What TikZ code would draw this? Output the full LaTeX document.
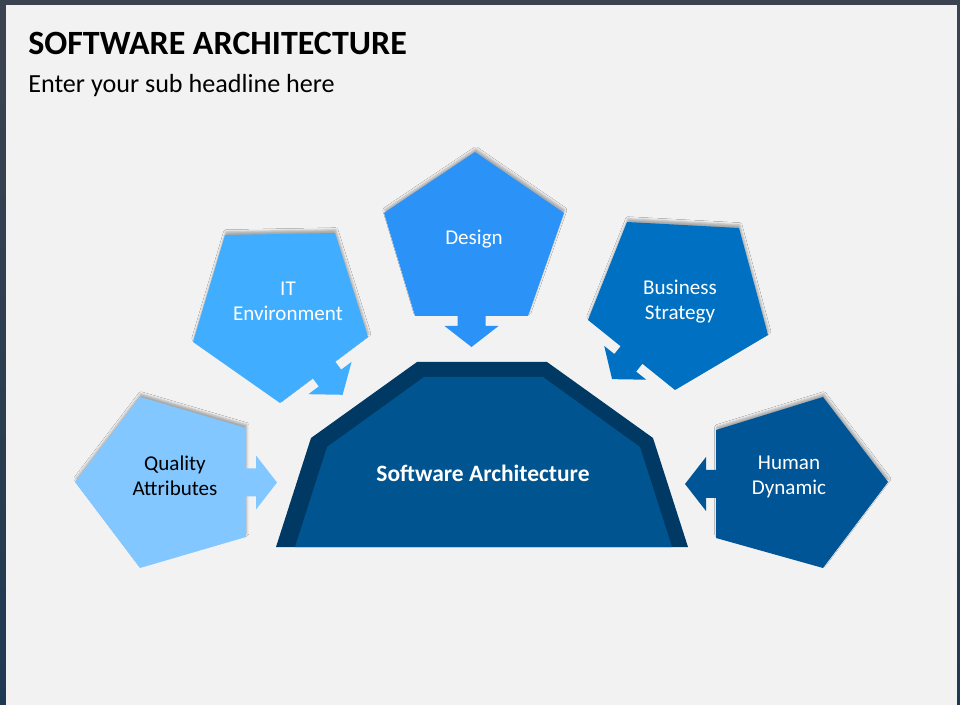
\documentclass[tikz,border=0pt]{standalone}
\usepackage{fontspec}
\setmainfont{Carlito}
\usetikzlibrary{calc,shadows.blur}
\definecolor{frameTop}{RGB}{60,67,80}
\definecolor{frameBot}{RGB}{30,58,82}
\definecolor{slidebg}{RGB}{242,242,242}
\definecolor{cQual}{RGB}{130,199,255}
\definecolor{cIT}{RGB}{64,173,255}
\definecolor{cDes}{RGB}{43,146,247}
\definecolor{cBus}{RGB}{0,113,194}
\definecolor{cHum}{RGB}{0,85,150}
\definecolor{cOut}{RGB}{0,57,99}
\definecolor{cIn}{RGB}{0,84,143}
\tikzset{
  pent/.style={blur shadow={shadow xshift=0.6pt, shadow yshift=2.4pt, shadow opacity=30, shadow blur radius=1.6pt, shadow blur extra rounding=0pt}},
  lbl/.style={align=center, font=\fontsize{15.8}{18.75}\selectfont, text=white, inner sep=0pt},
}
\newcommand\edgearrow[3]{%
  \coordinate (em) at ($(#1)!0.5!(#2)$);
  \coordinate (ep1) at ($(em)!10.5pt!(#1)$);
  \coordinate (ep2) at ($(em)!10.5pt!(#2)$);
  \coordinate (eh1) at ($(em)!20.25pt!(#1)$);
  \coordinate (eh2) at ($(em)!20.25pt!(#2)$);
  \coordinate (ei1) at ($(ep1)!-1.5pt!90:(#2)$);
  \coordinate (ei2) at ($(ep2)!-1.5pt!90:(#2)$);
  \coordinate (eq1) at ($(ep1)!7.5pt!90:(#2)$);
  \coordinate (eq2) at ($(ep2)!7.5pt!90:(#2)$);
  \coordinate (er1) at ($(eh1)!7.5pt!90:(#2)$);
  \coordinate (er2) at ($(eh2)!7.5pt!90:(#2)$);
  \coordinate (et) at ($(em)!23.25pt!90:(#2)$);
  \fill[#3] (ei1) -- (eq1) -- (er1) -- (et) -- (er2) -- (eq2) -- (ei2) -- cycle;
}
\begin{document}
\begin{tikzpicture}[x=0.75pt,y=-0.75pt]
\useasboundingbox (0,0) rectangle (960,705);
\shade[top color=frameTop, bottom color=frameBot] (0,0) rectangle (960,705);
\fill[slidebg] (6,5) rectangle (956.7,705);

% titles
\node[anchor=base west, inner sep=0pt, font=\fontsize{25.5}{30}\selectfont\bfseries] (title) at (28,55) {SOFTWARE ARCHITECTURE};
\node[anchor=base west, inner sep=0pt, font=\fontsize{19.6}{24}\selectfont] (sub) at (28,93) {Enter your sub headline here};

% coordinates
\coordinate (qaL) at (75,482); \coordinate (qaT) at (140,397); \coordinate (qaRT) at (246,428);
\coordinate (qaRB) at (246,537); \coordinate (qaB) at (140,568);
\coordinate (itTL) at (225,235); \coordinate (itTR) at (335,233); \coordinate (itR) at (368,337);
\coordinate (itB) at (280,403); \coordinate (itL) at (193,342);
\coordinate (deT) at (475,152); \coordinate (deRU) at (564,213); \coordinate (deRB) at (528,316);
\coordinate (deLB) at (415,316); \coordinate (deLU) at (384,213);
\coordinate (bsTL) at (627,222); \coordinate (bsTR) at (739,228); \coordinate (bsR) at (768,335);
\coordinate (bsB) at (675,390); \coordinate (bsL) at (588,320);
\coordinate (hdT) at (823,397); \coordinate (hdR) at (888,482); \coordinate (hdB) at (823,568);
\coordinate (hdLB) at (716,538); \coordinate (hdLT) at (716,430);

% pentagons
\fill[cQual, pent] (qaL) -- (qaT) -- (qaRT) -- (qaRB) -- (qaB) -- cycle;
\edgearrow{qaRT}{qaRB}{cQual}
\fill[cIT, pent] (itTL) -- (itTR) -- (itR) -- (itB) -- (itL) -- cycle;
\edgearrow{itR}{itB}{cIT}
\fill[cDes, pent] (deT) -- (deRU) -- (deRB) -- (deLB) -- (deLU) -- cycle;
\edgearrow{deRB}{deLB}{cDes}
\fill[cBus, pent] (bsTL) -- (bsTR) -- (bsR) -- (bsB) -- (bsL) -- cycle;
\edgearrow{bsB}{bsL}{cBus}
\fill[cHum, pent] (hdT) -- (hdR) -- (hdB) -- (hdLB) -- (hdLT) -- cycle;
\edgearrow{hdLB}{hdLT}{cHum}

% center shape
\fill[cOut] (276,547) -- (311,438) -- (417,362) -- (547,362) -- (653,438) -- (688,547) -- cycle;
\fill[cIn] (295,547) -- (327,447) -- (424,377) -- (543,377) -- (640,447) -- (672,547) -- cycle;

% labels
\node[lbl, text=black] (qa) at (175,476) {Quality\\Attributes};
\node[lbl] (it) at (288,301) {IT\\Environment};
\node[lbl] (de) at (474,239) {Design};
\node[lbl] (bs) at (680,302) {Business\\Strategy};
\node[lbl] (hd) at (789,477) {Human\\Dynamic};
\node[lbl, font=\fontsize{17.6}{20}\selectfont\bfseries] (sa) at (483,473) {Software Architecture};
\end{tikzpicture}
\end{document}
